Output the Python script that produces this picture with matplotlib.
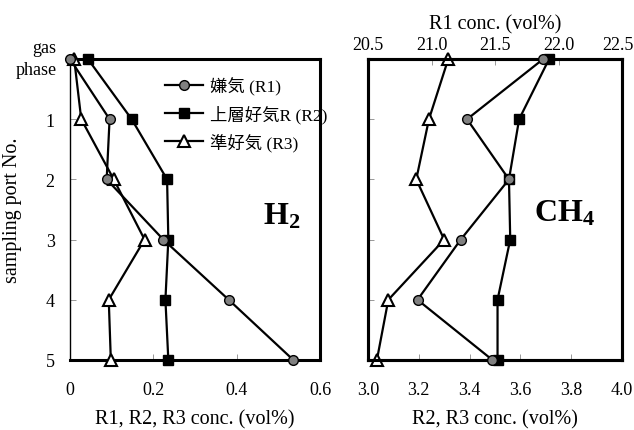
import matplotlib.pyplot as plt
import matplotlib.transforms as mtransforms
import numpy as np

plt.rcParams['font.family'] = ['Liberation Serif', 'Noto Sans CJK JP']
plt.rcParams['mathtext.fontset'] = 'stix'

ports = [0, 1, 2, 3, 4, 5]
port_labels = ['gas\nphase', '1', '2', '3', '4', '5']
names = ['嫌気 (R1)', '上層好気R (R2)', '準好気 (R3)']

# H2 (vol%)
h2_r1 = [0.0, 0.095, 0.088, 0.224, 0.381, 0.536]
h2_r2 = [0.043, 0.148, 0.233, 0.236, 0.229, 0.236]
h2_r3 = [0.01, 0.027, 0.105, 0.179, 0.093, 0.098]

# CH4 (vol%), R1 on top axis
ch4_r1 = [21.88, 21.28, 21.61, 21.23, 20.89, 21.48]
ch4_r2 = [3.713, 3.595, 3.555, 3.56, 3.51, 3.51]
ch4_r3 = [3.316, 3.24, 3.19, 3.30, 3.08, 3.035]

fig = plt.figure(figsize=(6.34, 4.31), dpi=100)
ax1 = fig.add_axes([70/634, 1-361/431, 250/634, 301/431])
ax2 = fig.add_axes([368/634, 1-361/431, 254/634, 301/431])

lw = 1.6
st1 = dict(color='k', lw=lw, marker='o', ms=7, mfc='#808080', mec='k', mew=1.0, clip_on=False)
st2 = dict(color='k', lw=lw, marker='s', ms=7, mfc='k', mec='k', clip_on=False)
st3 = dict(color='k', lw=lw, marker='^', ms=8, mfc='white', mec='k', mew=1.5, clip_on=False)

# left panel: H2
ax1.plot(h2_r3, ports, label=names[2], zorder=3, **st3)
ax1.plot(h2_r2, ports, label=names[1], zorder=4, **st2)
ax1.plot(h2_r1, ports, label=names[0], zorder=5, **st1)
ax1.set_xlim(0, 0.6)
ax1.set_ylim(5, 0)
ax1.set_xticks([0, 0.2, 0.4, 0.6])
ax1.set_xticklabels(['0', '0.2', '0.4', '0.6'])
ax1.set_yticks(ports)
ax1.set_yticklabels(port_labels, linespacing=1.35)
ax1.set_xlabel('R1, R2, R3 conc. (vol%)', fontsize=14.5, labelpad=8)
ax1.set_ylabel('sampling port No.', fontsize=14.5)
ax1.yaxis.set_label_coords(-0.19, 0.5)
ax1.text(0.92, 0.478, r'$\mathregular{H_2}$', transform=ax1.transAxes, fontsize=23,
         ha='right', va='center', fontweight='bold')
h, l = ax1.get_legend_handles_labels()
ax1.legend(h[::-1], l[::-1], loc='upper left', bbox_to_anchor=(0.318, 0.993), frameon=False,
           fontsize=12.5, handlelength=2.2, labelspacing=0.55, handletextpad=0.4)

# right panel: CH4
ax2.plot(ch4_r3, ports, zorder=3, **st3)
ax2.plot(ch4_r2, ports, zorder=4, **st2)
ax2.set_xlim(3.0, 4.0)
ax2.set_ylim(5, 0)
ax2.set_xticks(np.arange(3.0, 4.01, 0.2))
ax2.set_xticklabels(['3.0', '3.2', '3.4', '3.6', '3.8', '4.0'])
ax2.set_yticks(ports)
ax2.set_yticklabels([])
ax2.set_xlabel('R2, R3 conc. (vol%)', fontsize=14.5, labelpad=8)
ax2.text(0.895, 0.49, r'$\mathregular{CH_4}$', transform=ax2.transAxes, fontsize=23,
         ha='right', va='center', fontweight='bold')

ax3 = ax2.twiny()
ax3.plot(ch4_r1, ports, zorder=5, **st1)
ax3.set_xlim(20.5, 22.5)
ax3.set_xticks([20.5, 21.0, 21.5, 22.0, 22.5])
ax3.set_xticklabels(['20.5', '21.0', '21.5', '22.0', '22.5'])
ax3.set_xlabel('R1 conc. (vol%)', fontsize=14.5, labelpad=6)
ax3.set_ylim(5, 0)

for ax in (ax1, ax2, ax3):
    ax.tick_params(direction='in', length=4, width=0.6, color='#888888', labelsize=13)
    for s in ax.spines.values():
        s.set_linewidth(2.2)
ax1.spines['left'].set_linewidth(1.0)
ax1.tick_params(axis='y', pad=11)
ax1.tick_params(axis='x', pad=15)
ax2.tick_params(axis='x', pad=15)
ax3.tick_params(axis='x', pad=4)

# nudge a few tick labels to where they sit in the original
lab = ax3.get_xticklabels()[-1]
lab.set_transform(lab.get_transform() + mtransforms.ScaledTranslation(-4/100, 0, fig.dpi_scale_trans))
gas = ax1.get_yticklabels()[0]
gas.set_transform(gas.get_transform() + mtransforms.ScaledTranslation(2/100, 5/100, fig.dpi_scale_trans))

fig.savefig('out.png', dpi=100)
